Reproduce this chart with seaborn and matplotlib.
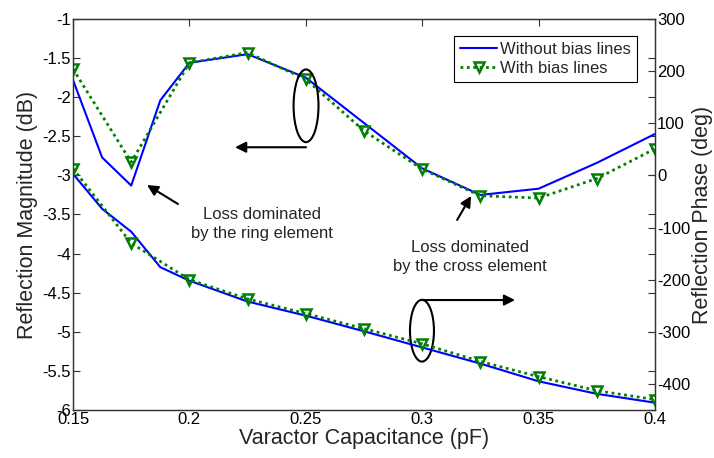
import matplotlib
matplotlib.use("Agg")
import matplotlib.pyplot as plt
from matplotlib.patches import Ellipse
import seaborn as sns

# varactor capacitance (pF)
cap_fine = [0.15, 0.1625, 0.175, 0.1875, 0.2, 0.225, 0.25, 0.275, 0.3, 0.325, 0.35, 0.375, 0.4]
cap_coarse = [0.15, 0.175, 0.2, 0.225, 0.25, 0.275, 0.3, 0.325, 0.35, 0.375, 0.4]

# reflection magnitude (dB)
mag_without = [-1.78, -2.77, -3.13, -2.04, -1.56, -1.45, -1.75, -2.33, -2.91, -3.25, -3.17, -2.84, -2.47]
mag_with = [-1.64, -2.83, -1.56, -1.43, -1.77, -2.43, -2.92, -3.26, -3.29, -3.04, -2.66]

# reflection phase (deg)
phase_without = [3, -64, -108, -176, -202, -242, -269, -299, -330, -361, -395, -419, -436]
phase_with = [13, -130, -200, -237, -265, -294, -323, -357, -386, -413, -430]

labels = ["Without bias lines", "With bias lines"]
x_ticks = [0.15, 0.2, 0.25, 0.3, 0.35, 0.4]
mag_ticks = [-1, -1.5, -2, -2.5, -3, -3.5, -4, -4.5, -5, -5.5, -6]
phase_ticks = [300, 200, 100, 0, -100, -200, -300, -400]

BLUE = "#0000ff"
GREEN = "#008000"

sns.set_style("white")
plt.rcParams["font.family"] = ["Liberation Sans", "DejaVu Sans"]

fig = plt.figure(figsize=(7.14, 4.58), dpi=100)
ax1 = fig.add_axes([73 / 714, 48 / 458, 582 / 714, 391 / 458])
ax2 = ax1.twinx()

blue_kw = dict(color=BLUE, linewidth=1.5)
green_kw = dict(color=GREEN, linewidth=2.0, linestyle=(0, (1, 1.3)), marker="v",
                markersize=7, markerfacecolor="none", markeredgecolor=GREEN,
                markeredgewidth=1.8)

sns.lineplot(x=cap_fine, y=mag_without, ax=ax1, legend=False, sort=False, **blue_kw)
sns.lineplot(x=cap_coarse, y=mag_with, ax=ax1, legend=False, sort=False, **green_kw)
sns.lineplot(x=cap_fine, y=phase_without, ax=ax2, legend=False, sort=False, **blue_kw)
sns.lineplot(x=cap_coarse, y=phase_with, ax=ax2, legend=False, sort=False, **green_kw)

ax1.set_xlim(0.15, 0.4)
ax1.set_ylim(-6, -1)
ax2.set_ylim(-450, 300)

ax1.set_xticks(x_ticks)
ax1.set_xticklabels([f"{v:g}" for v in x_ticks])
ax1.set_yticks(mag_ticks)
ax1.set_yticklabels([f"{v:g}" for v in mag_ticks])
ax2.set_yticks(phase_ticks)
ax2.set_yticklabels([f"{v:g}" for v in phase_ticks])

ax1.tick_params(direction="in", top=True, right=True, length=5, width=0.8,
                labelsize=12, pad=1.5, colors="#333333", labelcolor="black")
ax2.tick_params(direction="in", length=5, width=0.8, labelsize=12, pad=1.5,
                colors="#333333", labelcolor="black")
for ax in (ax1, ax2):
    for sp in ax.spines.values():
        sp.set_color("#333333")
        sp.set_linewidth(0.9)

ax1.set_xlabel("Varactor Capacitance (pF)", fontsize=15.5, labelpad=1)
ax1.set_ylabel("Reflection Magnitude (dB)", fontsize=15.5, labelpad=3)
ax2.set_ylabel("Reflection Phase (deg)", fontsize=15.5, labelpad=1)

# legend
handles = [ax1.lines[0], ax1.lines[1]]
leg = ax2.legend(handles, labels, loc="upper right", bbox_to_anchor=(0.969, 0.957),
                 borderaxespad=0, fontsize=12, frameon=True, fancybox=False,
                 framealpha=1, edgecolor="black", handlelength=2.2,
                 handletextpad=0.2, borderpad=0.35, labelspacing=0.25, numpoints=1)
leg.get_frame().set_linewidth(0.8)

# ellipses and arrows
arrow_kw = dict(arrowstyle="-|>", color="black", lw=1.5, mutation_scale=16,
                shrinkA=0, shrinkB=0)
ax1.add_patch(Ellipse((0.2501, -2.11), width=0.0107, height=0.93, fill=False,
                      edgecolor="black", lw=1.5, zorder=5))
ax1.annotate("", xy=(0.2196, -2.64), xytext=(0.2501, -2.64), arrowprops=arrow_kw)

ax1.add_patch(Ellipse((0.2999, -4.986), width=0.0103, height=0.79, fill=False,
                      edgecolor="black", lw=1.5, zorder=5))
ax1.annotate("", xy=(0.3399, -4.594), xytext=(0.2999, -4.594), arrowprops=arrow_kw)

ax1.annotate("", xy=(0.1818, -3.123), xytext=(0.1951, -3.366), arrowprops=arrow_kw)
ax1.text(0.2312, -3.62, "Loss dominated\nby the ring element", ha="center", va="center",
         fontsize=12, linespacing=1.3)

ax1.annotate("", xy=(0.3210, -3.263), xytext=(0.3150, -3.57), arrowprops=arrow_kw)
ax1.text(0.3205, -4.04, "Loss dominated\nby the cross element", ha="center", va="center",
         fontsize=12, linespacing=1.3)

fig.savefig("out.png", dpi=100)
